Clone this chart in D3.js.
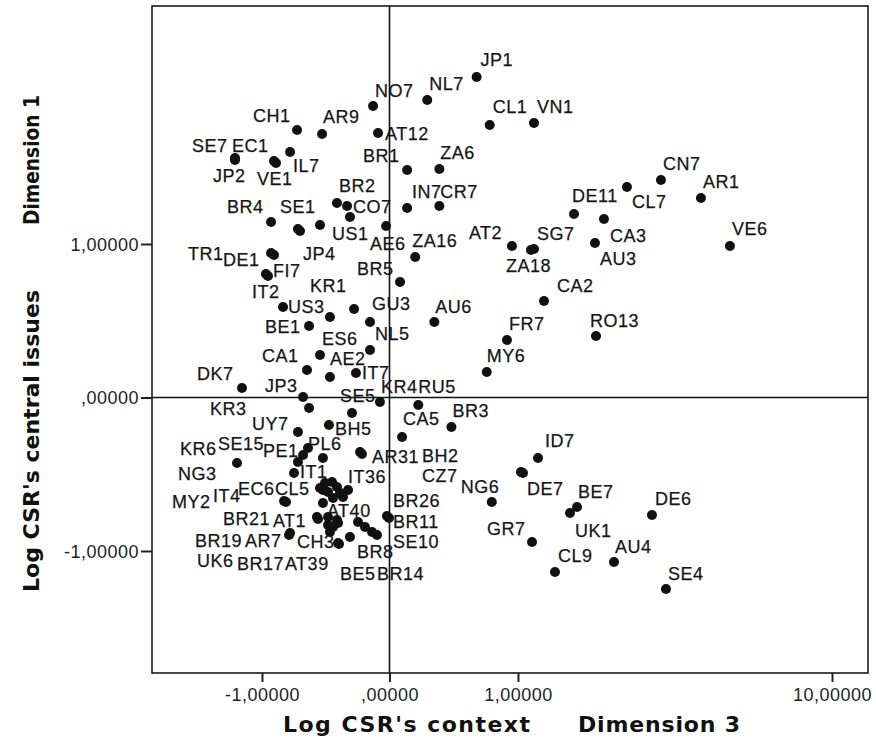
<!DOCTYPE html>
<html>
<head>
<meta charset="utf-8">
<script src="https://cdn.jsdelivr.net/npm/d3@7/dist/d3.min.js"></script>
<style>
    body { margin: 0; background: #fff; }
    svg { display: block; }
    .lbl { font-family: "Liberation Sans", Arial, sans-serif; font-size: 18px; fill: #161616; stroke: #161616; stroke-width: 0.25px; letter-spacing: 0.5px; }
    .axis text { font-family: "Liberation Sans", Arial, sans-serif; font-size: 18px; fill: #1e1e1e; letter-spacing: 0.5px; }
    .axis line { stroke: #222; stroke-width: 2; }
    .title { font-family: "DejaVu Sans", Verdana, sans-serif; font-weight: bold; font-size: 22px; fill: #111; }
    .ytitle { font-family: "DejaVu Sans Condensed", "DejaVu Sans", sans-serif; font-weight: bold; font-size: 22px; fill: #111; }
</style>
</head>
<body>
<div id="chart"></div>
<script>
// country/chapter codes ("" = point drawn without a label)
const codes = ["JP1","NL7","NO7","CL1","VN1","CH1","AR9","AT12","SE7","EC1",
    "JP2","VE1","IL7","BR1","ZA6","BR2","CO7","IN7","CR7","BR4",
    "SE1","US1","","AE6","JP4","ZA16","BR5","TR1","DE1","FI7",
    "IT2","KR1","","GU3","US3","BE1","ES6","NL5","CA1","AE2",
    "IT7","DK7","JP3","SE5","KR4","RU5","KR3","BH5","UY7","CA5",
    "BR3","AR31","BH2","ID7","DE7","CZ7","NG6","BR26","BR11","SE10",
    "BE7","UK1","DE6","GR7","AU4","CL9","SE4","CN7","AR1","CL7",
    "DE11","CA3","AU3","SG7","ZA18","AT2","VE6","CA2","AU6","FR7",
    "RO13","MY6","KR6","PE1","SE15","PL6","IT1","NG3","CL5","EC6",
    "IT36","IT4","MY2","AT40","AT1","BR21","AR7","BR19","CH3","BR8",
    "UK6","BR17","AT39","BE5","BR14","","","","","",
    "","","","","","",""];

// Dimension 3 (Log CSR's context)
const dim3 = [0.678,0.294,-0.129,0.780,1.458,-0.725,-0.529,-0.090,-1.212,-0.906,
    -1.212,-0.890,-0.780,0.137,0.388,-0.412,-0.333,0.137,0.388,-0.929,
    -0.718,-0.545,-0.310,-0.027,-0.702,0.200,0.082,-0.929,-0.906,-0.969,
    -0.953,-0.467,-0.278,-0.153,-0.835,-0.631,-0.545,-0.153,-0.647,-0.467,
    -0.263,-1.157,-0.678,-0.294,-0.075,0.224,-0.631,-0.475,-0.718,0.098,
    0.482,-0.231,-0.216,1.573,1.143,1.086,0.796,-0.020,-0.004,-0.098,
    2.691,2.490,4.840,1.401,3.751,2.060,5.241,5.097,6.244,4.123,
    2.605,3.464,3.206,1.458,1.372,0.953,7.074,1.745,0.349,0.914,
    3.235,0.757,-1.196,-0.639,-0.678,-0.522,-0.718,-0.749,-0.545,-0.522,
    -0.325,-0.827,-0.812,-0.365,-0.569,-0.561,-0.780,-0.788,-0.396,-0.137,
    -0.482,-0.443,-0.467,-0.404,-0.310,-0.506,-0.451,-0.412,-0.482,-0.388,
    -0.443,-0.482,-0.412,-0.247,-0.192,-0.404,-0.522];

// Dimension 1 (Log CSR's central issues)
const dim1 = [2.088,1.938,1.899,1.775,1.788,1.743,1.717,1.723,1.560,1.541,
    1.547,1.528,1.599,1.482,1.489,1.267,1.248,1.235,1.248,1.143,
    1.098,1.124,1.176,1.117,1.085,0.915,0.752,0.941,0.928,0.805,
    0.792,0.524,0.577,0.492,0.590,0.466,0.277,0.309,0.179,0.134,
    0.160,0.062,0.003,-0.101,-0.029,-0.049,-0.068,-0.179,-0.225,-0.257,
    -0.192,-0.355,-0.368,-0.394,-0.492,-0.485,-0.681,-0.772,-0.785,-0.896,
    -0.713,-0.752,-0.765,-0.941,-1.072,-1.137,-1.248,1.417,1.300,1.371,
    1.195,1.163,1.007,0.967,0.961,0.987,0.987,0.629,0.492,0.375,
    0.401,0.166,-0.427,-0.329,-0.375,-0.394,-0.420,-0.492,-0.590,-0.603,
    -0.603,-0.674,-0.681,-0.648,-0.779,-0.792,-0.883,-0.896,-0.954,-0.876,
    -0.831,-0.844,-0.876,-0.948,-0.909,-0.557,-0.550,-0.583,-0.616,-0.622,
    -0.655,-0.779,-0.798,-0.811,-0.844,-0.818,-0.687];

const xTicks = [-1, 0, 1, 10];
const yTicks = [-1, 0, 1];

// label placement (px offset of text start / baseline from the point), default above right
const labelShift = {
    JP1:[4,-11], NO7:[2,-9], CL1:[3,-12], VN1:[3,-10], CH1:[-44,-8], AR9:[1,-11], AT12:[7,7],
    SE7:[-43,-6], EC1:[-42,-9], JP2:[-22,22], VE1:[-19,22], IL7:[3,20], BR1:[-44,-8],
    ZA6:[1,-10], BR2:[2,-11], CO7:[6,7], IN7:[5,-10], CR7:[1,-8], BR4:[-44,-9], SE1:[-18,-16],
    US1:[12,15], AE6:[-16,24], JP4:[3,29], ZA16:[-3,-10], BR5:[-43,-7], TR1:[-83,7], DE1:[-51,11],
    FI7:[7,3], IT2:[-16,22], KR1:[-20,-25], GU3:[2,-12], US3:[5,6], BE1:[-44,7], NL5:[5,-10],
    CA1:[-45,-8], AE2:[0,-12], IT7:[6,6], DK7:[-45,-8], JP3:[-38,-5], SE5:[-12,-11], KR4:[1,-9],
    RU5:[0,-12], KR3:[-99,7], BH5:[6,10], UY7:[-46,-2], CA5:[1,-12], BR3:[1,-10], AR31:[12,11],
    BH2:[60,8], ID7:[7,-11], DE7:[4,22], CZ7:[-99,10], NG6:[-31,-9], BR26:[6,-9], BR11:[4,10],
    SE10:[16,13], BE7:[1,-9], UK1:[5,24], DE6:[3,-10], GR7:[-45,-7], AU4:[1,-9], CL9:[3,-10],
    SE4:[2,-9], CN7:[2,-10], AR1:[2,-10], CL7:[5,21], DE11:[-2,-12], CA3:[6,23], AU3:[5,22],
    SG7:[3,-9], ZA18:[-25,22], AT2:[-43,-7], VE6:[2,-11], CA2:[13,-9], AU6:[1,-9], FR7:[2,-10],
    RO13:[-6,-9], MY6:[0,-10], KR6:[-57,-8], PE1:[-45,9], SE15:[-85,-5], PL6:[-15,-8], IT1:[2,16],
    NG3:[-116,7], CL5:[-45,7], EC6:[-85,5], IT36:[0,-7], IT4:[-71,1], MY2:[-114,6], AT40:[-16,20],
    AT1:[-44,10], BR21:[-95,6], AR7:[-45,14], BR19:[-94,12], CH3:[-42,4], BR8:[-15,26],
    UK6:[-131,42], BR17:[-96,43], AT39:[-45,38], BE5:[2,37], BR14:[27,43]
};

const points = codes.map((c, i) => ({code: c, x: dim3[i], y: dim1[i]}));

let width = 876, height = 749;
let box = {left: 152, right: 868, top: 6, bottom: 673};

// the x axis is stretched: -1..1 evenly, then 1..10 compressed
let x = d3.scaleLinear()
    .domain([-1, 0, 1, 10])
    .range([262, 389.5, 518, 832]);
let y = d3.scaleLinear()
    .domain([-1, 1])
    .range([551, 244]);

const loc = d3.formatLocale({decimal: ",", thousands: ".", grouping: [3], currency: ["", ""], minus: "-"});
const f5 = loc.format(".5f");
const fmt = d => f5(d).replace(/^(-?)0,/, "$1,");

let svg = d3.select("#chart")
    .append("svg")
    .attr("width", width)
    .attr("height", height);

svg.append("rect")
    .attr("width", width).attr("height", height)
    .attr("fill", "#fff");

// plot frame
svg.append("rect")
    .attr("x", box.left).attr("y", box.top)
    .attr("width", box.right - box.left)
    .attr("height", box.bottom - box.top)
    .attr("fill", "none")
    .attr("stroke", "#1a1a1a")
    .attr("stroke-width", 1.6);

// reference lines at 0
svg.append("line")
    .attr("x1", x(0)).attr("x2", x(0))
    .attr("y1", box.top).attr("y2", box.bottom)
    .attr("stroke", "#111").attr("stroke-width", 1.6);
svg.append("line")
    .attr("x1", box.left).attr("x2", box.right)
    .attr("y1", y(0)).attr("y2", y(0))
    .attr("stroke", "#111").attr("stroke-width", 1.6);

// axes
let gx = svg.append("g")
    .attr("class", "axis")
    .attr("transform", "translate(0," + box.bottom + ")")
    .call(d3.axisBottom(x).tickValues(xTicks).tickSize(9).tickPadding(6).tickFormat(fmt));
gx.select(".domain").remove();

let gy = svg.append("g")
    .attr("class", "axis")
    .attr("transform", "translate(" + box.left + ",0)")
    .call(d3.axisLeft(y).tickValues(yTicks).tickSize(11).tickPadding(2).tickFormat(fmt));
gy.select(".domain").remove();
gy.selectAll("text").attr("dy", "0.36em");

// points
svg.append("g")
    .selectAll("circle")
    .data(points)
    .enter().append("circle")
    .attr("cx", d => x(d.x))
    .attr("cy", d => y(d.y))
    .attr("r", 5)
    .attr("fill", "#111");

// labels
svg.append("g")
    .selectAll("text")
    .data(points.filter(d => d.code != ""))
    .enter().append("text")
    .attr("class", "lbl")
    .attr("x", d => x(d.x) + (labelShift[d.code] || [2, -10])[0])
    .attr("y", d => y(d.y) + (labelShift[d.code] || [2, -10])[1])
    .text(d => d.code);

// axis titles
svg.append("text").attr("class", "title")
    .attr("x", 283).attr("y", 732)
    .attr("textLength", 247).attr("lengthAdjust", "spacing")
    .text("Log CSR's context");
svg.append("text").attr("class", "title")
    .attr("x", 578).attr("y", 732)
    .attr("textLength", 162).attr("lengthAdjust", "spacing")
    .text("Dimension 3");

svg.append("text").attr("class", "ytitle")
    .attr("transform", "translate(39,592) rotate(-90)")
    .attr("textLength", 302).attr("lengthAdjust", "spacingAndGlyphs")
    .text("Log CSR's central issues");
svg.append("text").attr("class", "ytitle")
    .attr("transform", "translate(39,225) rotate(-90)")
    .attr("textLength", 130).attr("lengthAdjust", "spacingAndGlyphs")
    .text("Dimension 1");
</script>
</body>
</html>
